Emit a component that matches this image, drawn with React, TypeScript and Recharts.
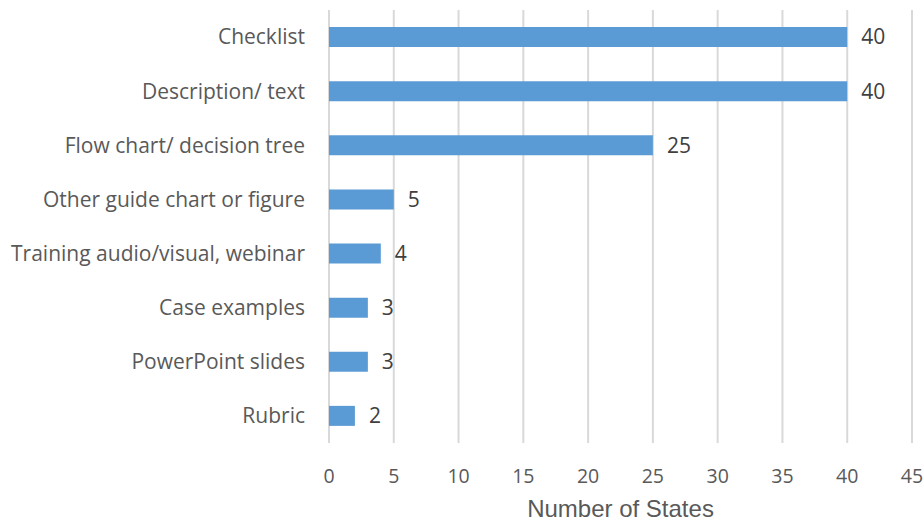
import { BarChart, Bar, XAxis, YAxis, CartesianGrid, LabelList, Label } from 'recharts';

const categories = [
  'Checklist',
  'Description/ text',
  'Flow chart/ decision tree',
  'Other guide chart or figure',
  'Training audio/visual, webinar',
  'Case examples',
  'PowerPoint slides',
  'Rubric',
];
const stateCounts = [40, 40, 25, 5, 4, 3, 3, 2];
const xTicks = [0, 5, 10, 15, 20, 25, 30, 35, 40, 45];

const data = categories.map((name, i) => ({ name, value: stateCounts[i] }));

const LABEL_FONT = '"Open Sans", Lato, sans-serif';

const CategoryTick = (props: any) => {
  const { x, y, payload } = props;
  return (
    <text
      x={x - 16}
      y={y}
      dy="0.35em"
      textAnchor="end"
      fontFamily={LABEL_FONT}
      fontSize={21}
      fill="#595959"
    >
      {payload.value}
    </text>
  );
};

const ValueTick = (props: any) => {
  const { x, y, payload } = props;
  return (
    <text
      x={x}
      y={y + 25}
      dy="0.35em"
      textAnchor="middle"
      fontFamily={LABEL_FONT}
      fontSize={19.5}
      fill="#595959"
    >
      {payload.value}
    </text>
  );
};

const App = () => {
  return (
    <div style={{ position: 'absolute', left: 0, top: 0, background: '#fff' }}>
      <BarChart
        width={924}
        height={521}
        data={data}
        layout="vertical"
        margin={{ top: 10, right: 12, bottom: 0, left: 0 }}
        barCategoryGap={0}
      >
        <CartesianGrid vertical horizontal={false} stroke="#d9d9d9" strokeWidth={2} />
        <XAxis
          type="number"
          domain={[0, 45]}
          ticks={xTicks}
          axisLine={false}
          tickLine={false}
          height={78}
          tick={<ValueTick />}
          interval={0}
        >
          <Label
            value="Number of States"
            position="insideBottom"
            offset={4}
            fontFamily='"Liberation Sans", Arial, sans-serif'
            fontSize={24}
            fill="#595959"
          />
        </XAxis>
        <YAxis
          type="category"
          dataKey="name"
          width={329}
          axisLine={false}
          tickLine={false}
          tick={<CategoryTick />}
          interval={0}
        />
        <Bar dataKey="value" fill="#5b9bd5" barSize={20} isAnimationActive={false}>
          <LabelList
            dataKey="value"
            position="right"
            offset={14}
            fontFamily={LABEL_FONT}
            fontSize={21}
            fill="#404040"
          />
        </Bar>
      </BarChart>
    </div>
  );
};

export default App;
